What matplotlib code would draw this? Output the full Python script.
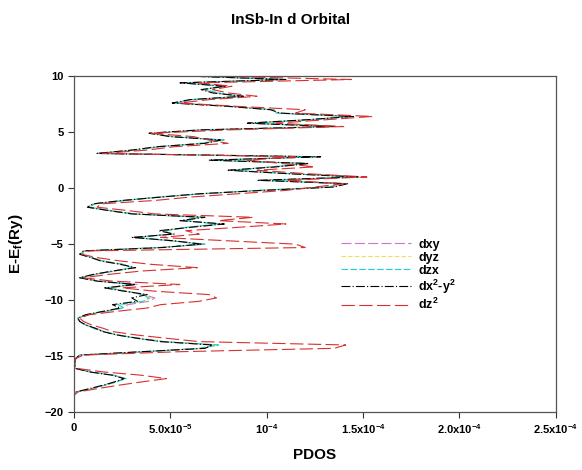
import numpy as np
import matplotlib
matplotlib.use("Agg")
import matplotlib.pyplot as plt
from matplotlib.ticker import FixedLocator, FixedFormatter

plt.rcParams['font.family'] = ['Liberation Sans', 'DejaVu Sans']
plt.rcParams['font.weight'] = 'bold'
plt.rcParams['mathtext.fontset'] = 'custom'
plt.rcParams['mathtext.bf'] = 'Liberation Sans:bold'
plt.rcParams['mathtext.rm'] = 'Liberation Sans:bold'
plt.rcParams['mathtext.default'] = 'bf'

# energia (Ry) e PDOS (unidades de 1e-5)
energia = [-19.1, -18.8, -18.5, -18.2, -17.9, -17.6, -17.3, -17.0, -16.7, -16.4,
           -16.1, -15.8, -15.5, -15.2, -14.9, -14.6, -14.3, -14.0, -13.7, -13.4,
           -13.1, -12.8, -12.5, -12.2, -11.9, -11.6, -11.3, -11.0, -10.7, -10.4,
           -10.1, -9.8, -9.5, -9.2, -8.9, -8.6, -8.3, -8.0, -7.7, -7.4,
           -7.1, -6.8, -6.5, -6.2, -5.9, -5.6, -5.3, -5.0, -4.7, -4.4,
           -4.1, -3.8, -3.5, -3.2, -2.9, -2.6, -2.3, -2.0, -1.7, -1.4,
           -1.1, -0.8, -0.5, -0.2, 0.1, 0.4, 0.7, 1.0, 1.3, 1.6,
           1.9, 2.2, 2.5, 2.8, 3.1, 3.4, 3.7, 4.0, 4.3, 4.6,
           4.9, 5.2, 5.5, 5.8, 6.1, 6.4, 6.7, 7.0, 7.3, 7.6,
           7.9, 8.2, 8.5, 8.8, 9.1, 9.4, 9.7, 10.0]

dxy = [0, 0, 0, 0.1, 0.9, 1.5, 2.2, 2.6, 2.1, 0.9,
       0.1, 0.05, 0.05, 0.1, 0.3, 3.6, 6.6, 7.3, 4.7, 3.4,
       2.2, 1.6, 1.1, 0.6, 0.3, 0.2, 0.7, 1.7, 2.5, 2.8,
       3.9, 4.2, 3.6, 2.7, 1.8, 3.3, 1.3, 0.3, 1.1, 2.0,
       3.1, 2.5, 1.4, 0.9, 0.3, 0.5, 4.5, 6.7, 5.1, 3.1,
       5.1, 4.6, 5.9, 7.7, 5.6, 6.6, 3.1, 1.8, 0.7, 1.0,
       2.6, 4.4, 6.6, 9.7, 13.4, 14.0, 9.8, 14.6, 11.1, 8.1,
       10.4, 12.1, 7.2, 12.6, 1.2, 3.1, 4.4, 6.7, 7.7, 5.1,
       3.9, 6.6, 13.4, 9.1, 12.1, 14.4, 10.6, 10.3, 8.1, 5.2,
       6.1, 8.7, 7.3, 6.7, 7.8, 5.6, 10.9, 6.1]

dyz = [0, 0, 0, 0.1, 0.8, 1.6, 2.1, 2.7, 2.0, 0.8,
       0.1, 0.05, 0.05, 0.1, 0.3, 3.7, 6.7, 7.4, 4.5, 3.3,
       2.2, 1.5, 1.0, 0.6, 0.3, 0.2, 0.6, 1.6, 2.5, 2.5,
       3.7, 4.0, 3.6, 2.7, 1.7, 3.1, 1.2, 0.3, 1.0, 2.1,
       3.1, 2.5, 1.5, 0.9, 0.3, 0.5, 4.5, 6.7, 5.1, 3.2,
       5.1, 4.7, 5.9, 7.6, 5.7, 6.6, 3.1, 1.8, 0.7, 1.0,
       2.6, 4.4, 6.6, 9.6, 13.3, 13.9, 9.9, 14.6, 11.1, 8.2,
       10.3, 12.1, 7.3, 12.6, 1.2, 3.1, 4.4, 6.6, 7.7, 5.1,
       3.9, 6.7, 13.3, 9.2, 12.2, 14.3, 10.6, 10.3, 8.1, 5.2,
       6.1, 8.7, 7.4, 6.7, 7.7, 5.7, 10.9, 6.1]

dzx = [0, 0, 0, 0.1, 0.9, 1.6, 2.2, 2.7, 2.0, 0.8,
       0.1, 0.05, 0.05, 0.1, 0.3, 3.8, 6.5, 7.5, 4.6, 3.2,
       2.3, 1.5, 1.0, 0.6, 0.3, 0.2, 0.7, 1.6, 2.6, 2.3,
       3.6, 3.9, 3.5, 2.8, 1.7, 3.0, 1.3, 0.3, 1.1, 2.1,
       3.0, 2.6, 1.5, 0.9, 0.3, 0.6, 4.4, 6.8, 5.0, 3.3,
       5.0, 4.8, 5.8, 7.5, 5.8, 6.5, 3.2, 1.9, 0.8, 1.1,
       2.7, 4.3, 6.7, 9.5, 13.2, 13.8, 10.0, 14.5, 11.2, 8.3,
       10.2, 12.0, 7.4, 12.5, 1.3, 3.2, 4.5, 6.5, 7.8, 5.2,
       4.0, 6.8, 13.2, 9.3, 12.3, 14.2, 10.5, 10.4, 8.2, 5.3,
       6.2, 8.6, 7.5, 6.8, 7.6, 5.8, 10.8, 6.2]

dx2y2 = [0, 0, 0, 0.1, 0.8, 1.5, 2.1, 2.6, 2.0, 0.8,
         0.1, 0.05, 0.05, 0.1, 0.3, 3.5, 6.8, 7.2, 4.5, 3.3,
         2.2, 1.5, 1.1, 0.6, 0.3, 0.2, 0.6, 1.5, 2.4, 2.0,
         3.3, 3.0, 3.8, 2.6, 1.6, 3.2, 1.2, 0.3, 1.0, 2.0,
         3.2, 2.4, 1.4, 0.9, 0.3, 0.5, 4.6, 6.6, 5.2, 3.0,
         5.2, 4.4, 6.0, 7.8, 5.5, 6.8, 3.0, 1.8, 0.7, 1.0,
         2.5, 4.5, 6.5, 9.8, 13.5, 14.2, 9.5, 14.8, 11.0, 8.0,
         10.5, 12.2, 7.0, 12.8, 1.2, 3.0, 4.3, 6.8, 7.6, 5.0,
         3.9, 6.5, 13.5, 9.0, 12.0, 14.5, 10.7, 10.2, 8.0, 5.1,
         6.0, 8.8, 7.2, 6.6, 7.9, 5.5, 11.0, 6.0]

dz2 = [0, 0, 0, 0.2, 1.2, 2.3, 3.5, 4.8, 3.5, 1.5,
       0.2, 0.05, 0.05, 0.1, 0.5, 5.5, 13.5, 14.1, 6.5, 4.8,
       3.2, 2.0, 1.5, 0.9, 0.5, 0.3, 0.8, 2.2, 3.8, 4.5,
       6.5, 7.4, 7.0, 4.2, 2.5, 5.5, 2.0, 0.5, 1.8, 3.5,
       6.4, 4.0, 2.4, 1.2, 0.4, 0.8, 12.0, 11.5, 8.0, 4.5,
       6.5, 5.8, 8.5, 11.0, 7.5, 9.3, 4.2, 2.8, 1.2, 1.4,
       4.2, 6.0, 8.5, 11.0, 12.5, 14.0, 11.0, 15.2, 12.0, 9.5,
       12.5, 10.8, 9.0, 11.5, 1.5, 3.8, 5.2, 8.0, 7.0, 6.2,
       4.0, 8.0, 14.0, 10.5, 13.0, 15.5, 11.5, 12.0, 8.5, 5.5,
       7.0, 9.5, 8.0, 7.2, 8.2, 6.5, 14.4, 7.0]

nomes = ['dxy', 'dyz', 'dzx', 'dx$^2$-y$^2$', 'dz$^2$']
cores = ['#d070d0', '#e8e060', '#20d0d0', 'black', '#d83030']
tracos = [(0, (9, 3)), (0, (4, 2)), (0, (6, 2)), (0, (8, 2, 1, 2)), (0, (12, 4))]

fig = plt.figure(figsize=(5.82, 4.70), dpi=100)
ax = fig.add_axes([0.127, 0.123, 0.828, 0.715])

series = [dxy, dyz, dzx, dx2y2, dz2]
for s, nome, cor, ls in zip(series, nomes, cores, tracos):
    ax.plot(np.array(s) * 1e-5, energia, color=cor, linestyle=ls, lw=0.8, label=nome)

ax.set_xlim(0, 2.5e-4)
ax.set_ylim(-20, 10)

xt = [0, 5e-5, 1e-4, 1.5e-4, 2e-4, 2.5e-4]
xl = ['0', '5.0x10$^{-5}$', '10$^{-4}$', '1.5x10$^{-4}$', '2.0x10$^{-4}$', '2.5x10$^{-4}$']
ax.xaxis.set_major_locator(FixedLocator(xt))
ax.xaxis.set_major_formatter(FixedFormatter(xl))
ax.set_yticks([-20, -15, -10, -5, 0, 5, 10])
ax.tick_params(labelsize=8, direction='out', length=4, width=0.8, colors='#333333')
for lab in ax.get_xticklabels() + ax.get_yticklabels():
    lab.set_fontweight('bold')
    lab.set_color('black')
for sp in ax.spines.values():
    sp.set_color('#555555')
    sp.set_linewidth(0.9)

ax.set_xlabel('PDOS', fontsize=11, fontweight='bold', labelpad=8)
ax.set_ylabel('E-E$_f$(Ry)', fontsize=11, fontweight='bold', labelpad=14)
fig.text(0.5, 0.958, 'InSb-In d Orbital', ha='center', va='center',
         fontsize=11, fontweight='bold')

leg = ax.legend(loc='upper left', bbox_to_anchor=(0.53, 0.55), frameon=False,
                fontsize=9, handlelength=5.6, labelspacing=0.08, handletextpad=0.6)

fig.savefig('out.png', dpi=100)
